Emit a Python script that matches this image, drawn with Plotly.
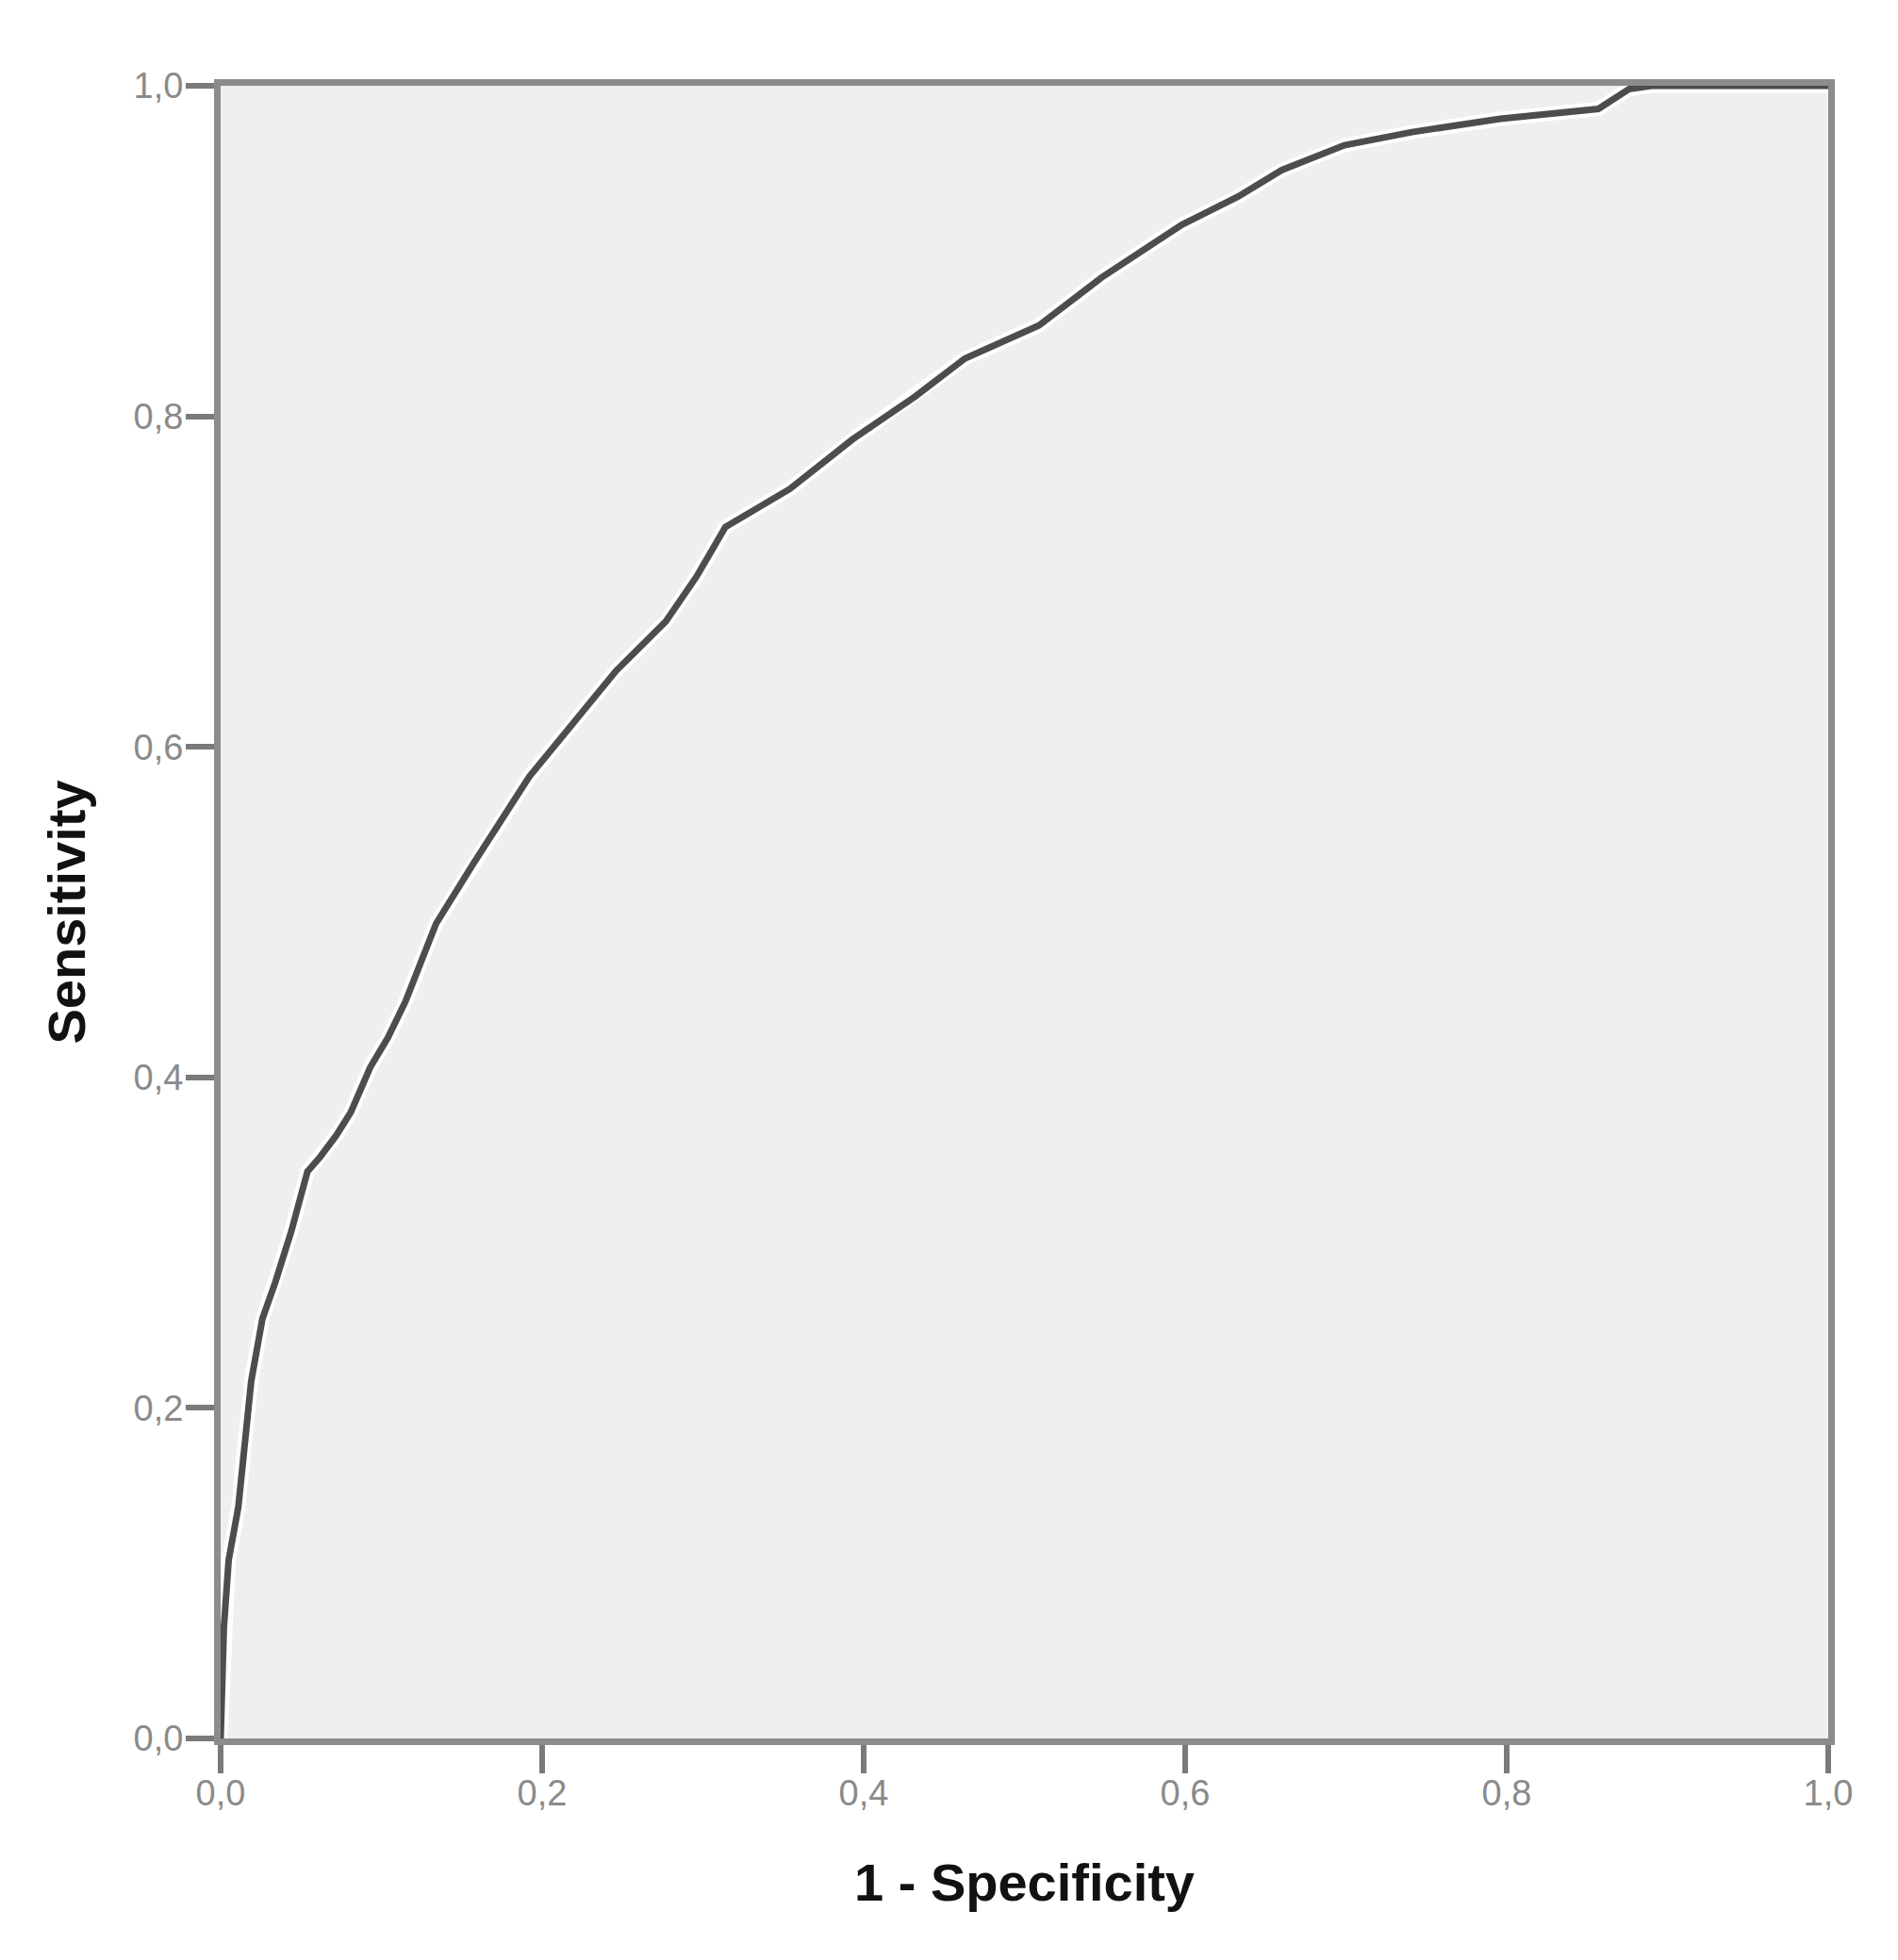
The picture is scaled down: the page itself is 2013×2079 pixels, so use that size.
import plotly.graph_objects as go

# ROC curve
fpr = [0, 0.002, 0.005, 0.011, 0.019, 0.026, 0.034, 0.044, 0.054, 0.062, 0.072, 0.081,
       0.093, 0.104, 0.115, 0.134, 0.157, 0.192, 0.219, 0.246, 0.277, 0.296, 0.314,
       0.354, 0.393, 0.432, 0.463, 0.509, 0.548, 0.598, 0.633, 0.660, 0.699, 0.741,
       0.796, 0.857, 0.876, 0.890, 1.0]
tpr = [0, 0.067, 0.108, 0.140, 0.216, 0.254, 0.276, 0.307, 0.343, 0.352, 0.365, 0.379,
       0.406, 0.424, 0.446, 0.493, 0.529, 0.582, 0.614, 0.646, 0.676, 0.703, 0.733,
       0.756, 0.786, 0.812, 0.835, 0.855, 0.884, 0.916, 0.933, 0.949, 0.964, 0.972,
       0.980, 0.986, 0.998, 1.0, 1.0]
tick_vals = [0, 0.2, 0.4, 0.6, 0.8, 1.0]
tick_text = ["0,0", "0,2", "0,4", "0,6", "0,8", "1,0"]

FONT = "Liberation Sans, Arial, sans-serif"

fig = go.Figure()
# white halo under the curve, as in the source image
fig.add_trace(go.Scatter(x=fpr, y=tpr, mode="lines", line=dict(color="#ffffff", width=15),
                         hoverinfo="skip", showlegend=False))
fig.add_trace(go.Scatter(x=fpr, y=tpr, mode="lines", line=dict(color="#4d4d4d", width=7),
                         showlegend=False))

axis_common = dict(
    range=[0, 1],
    tickvals=tick_vals,
    ticktext=tick_text,
    showgrid=False,
    zeroline=False,
    showline=True,
    mirror=True,
    linecolor="#8c8c8c",
    linewidth=7,
    ticks="outside",
    ticklen=30,
    tickwidth=6,
    tickcolor="#7a7a7a",
    tickfont=dict(family=FONT, size=38, color="#8a8a8a"),
)

fig.update_xaxes(
    **axis_common,
    ticklabelstandoff=-12,
    title=dict(text="<b>1 - Specificity</b>", font=dict(family=FONT, size=56, color="#111111"),
               standoff=58),
)
fig.update_yaxes(
    **axis_common,
    ticklabelstandoff=-5,
    title=dict(text="<b>Sensitivity</b>", font=dict(family=FONT, size=56, color="#111111"),
               standoff=35),
)

fig.update_layout(
    width=2013,
    height=2079,
    margin=dict(l=226, r=82, t=83, b=243, autoexpand=False),
    paper_bgcolor="#ffffff",
    plot_bgcolor="#efefef",
)

fig.write_html("out.html")
